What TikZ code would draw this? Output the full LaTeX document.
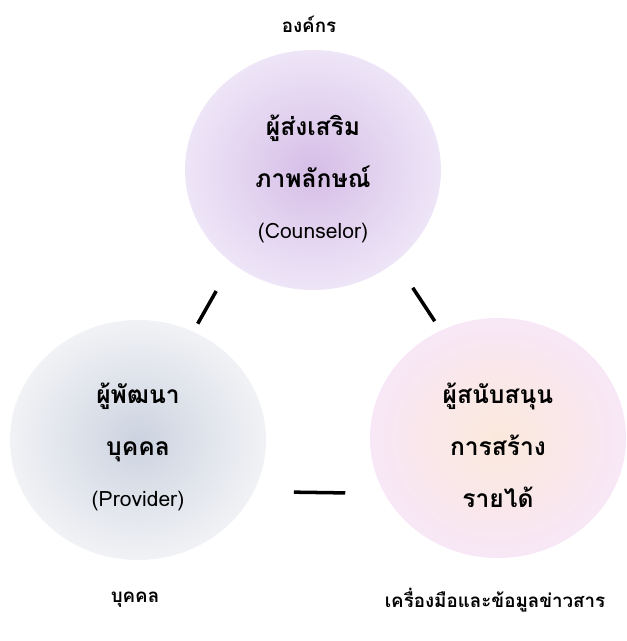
\documentclass[tikz,border=0pt]{standalone}
\usepackage{fontspec}
\newfontfamily\thaifont[Script=Thai]{Loma}
\usepackage{xcolor}
\usetikzlibrary{shapes.geometric}

\definecolor{glowin}{RGB}{255,255,255}
\definecolor{glowout}{RGB}{255,255,255}
\definecolor{counselorin}{RGB}{214,190,231}
\definecolor{counselorout}{RGB}{238,229,247}
\definecolor{providerin}{RGB}{204,211,224}
\definecolor{providerout}{RGB}{241,242,245}
\definecolor{supporterin}{RGB}{251,232,220}
\definecolor{supporterout}{RGB}{248,231,246}

\pgfdeclareradialshading[glowin,glowout]{glow}{\pgfpoint{0bp}{0bp}}{color(0bp)=(glowin); color(25bp)=(glowout); color(50bp)=(glowout)}

\begin{document}
\begin{tikzpicture}[x=0.03cm,y=-0.03cm]
        % \tikzstyle{every path}=[very thick]

        \edef\sizeball{7.68cm}
        \tikzstyle{ball}=[ellipse,inner sep=0pt,minimum width=\sizeball,minimum height=7.2cm,align=center,shading=glow,font=\thaifont\bfseries\fontsize{21}{44}\selectfont]
        \tikzstyle{tag}=[inner sep=0pt,font=\thaifont\bfseries\fontsize{16}{20}\selectfont]
        \tikzstyle{link}=[line width=3pt]
        \tikzset{glowcols/.code 2 args={\colorlet{glowin}{#1}\colorlet{glowout}{#2}}}
        \newcommand\latinpart[1]{{\mdseries\fontsize{18}{44}\selectfont #1}}

        \useasboundingbox (0,0) rectangle (627,641);

        %% Draw the three balls
        \node [ball,glowcols={counselorin}{counselorout}] (counselor) at (313,170) {\rule{0pt}{33pt}ผู้ส่งเสริม\\ภาพลักษณ์\\\latinpart{(Counselor)}};
        \node [ball,glowcols={providerin}{providerout}] (provider) at (138,440) {\rule{0pt}{30pt}ผู้พัฒนา\\บุคคล\\\latinpart{(Provider)}};
        \node [ball,glowcols={supporterin}{supporterout}] (supporter) at (498,438) {\rule{0pt}{30pt}ผู้สนับสนุน\\การสร้าง\\รายได้};

        %% Outer tags
        \node [tag] (org) at (309,24) {องค์กร};
        \node [tag] (person) at (135,600) {บุคคล};
        \node [tag] (tools) at (495,600) {เครื่องมือและข้อมูลข่าวสาร};

        %% Links between the balls
        \draw [link,shorten <=0.96cm,shorten >=0.27cm] (counselor.229) -- (provider.63);
        \draw [link,shorten <=0.93cm,shorten >=0.33cm] (counselor.312) -- (supporter.118);
        \draw [link,shorten <=1.2cm,shorten >=1.17cm] (provider.336) -- (supporter.206);

    \end{tikzpicture}
\end{document}
